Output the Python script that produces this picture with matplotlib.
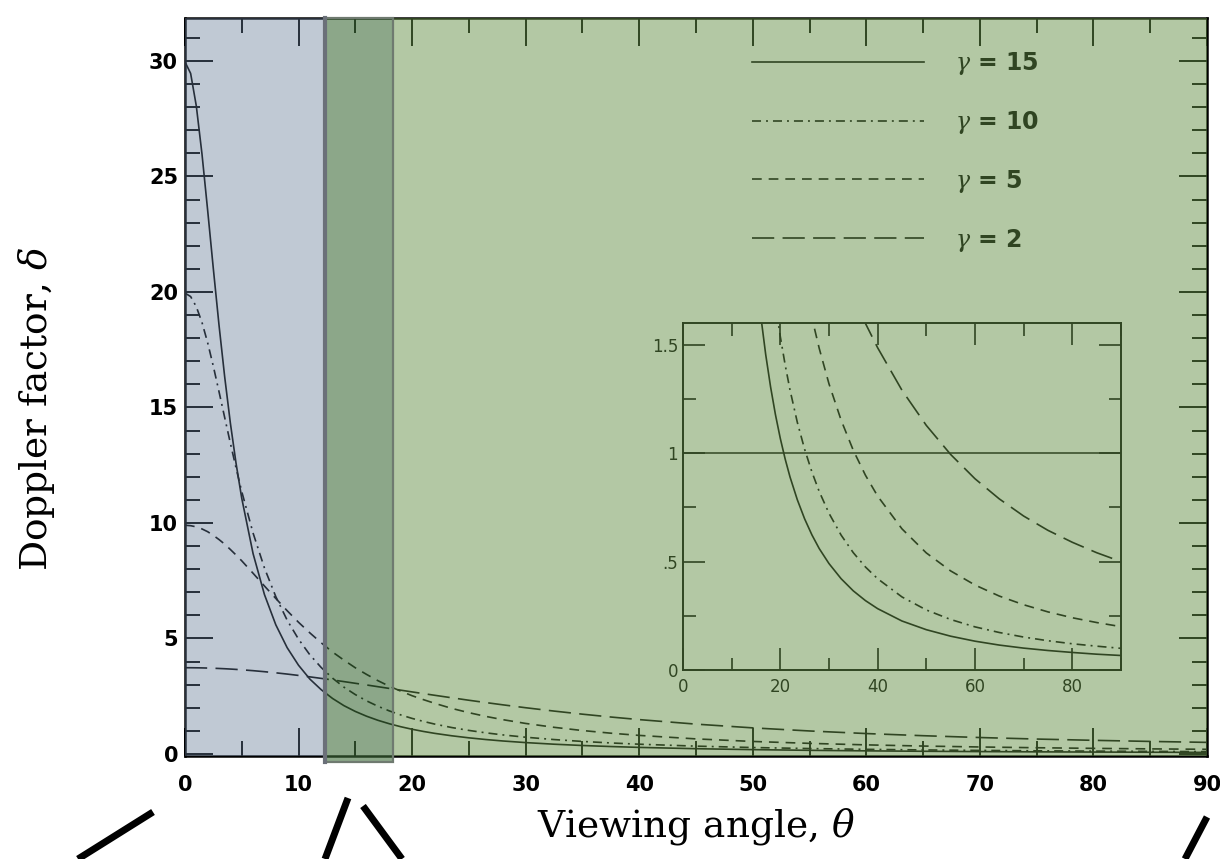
import numpy as np
import matplotlib
matplotlib.use("Agg")
import matplotlib.pyplot as plt
from matplotlib.patches import Rectangle
from matplotlib.lines import Line2D
from matplotlib.ticker import MultipleLocator

plt.rcParams['lines.scale_dashes'] = False
plt.rcParams['mathtext.fontset'] = 'dejavuserif'

# viewing angle (deg) and Doppler factor for each Lorentz factor
theta = [0, 0.5, 1, 1.5, 2, 2.5, 3, 3.5, 4, 4.5,
         5, 6, 7, 8, 9, 10, 11, 12, 13, 14,
         15, 16, 17, 18, 19, 20, 21, 22, 23.5, 25,
         26.5, 28, 30, 32.5, 35, 37.5, 40, 45, 50, 55,
         60, 65, 70, 75, 80, 85, 90]
delta_g15 = [29.96, 29.46, 28.05, 25.97, 23.53, 21.00, 18.56, 16.32, 14.32, 12.58,
             11.07, 8.67, 6.90, 5.59, 4.60, 3.84, 3.24, 2.78, 2.40, 2.09,
             1.84, 1.631, 1.455, 1.306, 1.178, 1.068, 0.973, 0.890, 0.785, 0.697,
             0.623, 0.560, 0.491, 0.421, 0.365, 0.320, 0.283, 0.226, 0.186, 0.156,
             0.133, 0.115, 0.101, 0.090, 0.081, 0.073, 0.067]
delta_g10 = [19.95, 19.80, 19.36, 18.68, 17.80, 16.78, 15.68, 14.56, 13.45, 12.38,
             11.36, 9.56, 8.05, 6.81, 5.79, 4.97, 4.29, 3.74, 3.28, 2.89,
             2.57, 2.296, 2.062, 1.862, 1.689, 1.538, 1.407, 1.291, 1.142, 1.018,
             0.913, 0.823, 0.723, 0.622, 0.541, 0.475, 0.421, 0.337, 0.277, 0.233,
             0.199, 0.173, 0.152, 0.135, 0.121, 0.110, 0.100]
delta_g5 = [9.90, 9.88, 9.83, 9.74, 9.62, 9.46, 9.28, 9.08, 8.85, 8.61,
            8.36, 7.82, 7.27, 6.73, 6.20, 5.70, 5.24, 4.81, 4.41, 4.06,
            3.73, 3.44, 3.17, 2.93, 2.72, 2.52, 2.35, 2.19, 1.97, 1.786,
            1.624, 1.483, 1.320, 1.152, 1.013, 0.898, 0.802, 0.651, 0.540, 0.457,
            0.392, 0.341, 0.301, 0.268, 0.241, 0.219, 0.200]
delta_g2 = [3.732, 3.731, 3.728, 3.724, 3.717, 3.709, 3.699, 3.688, 3.674, 3.659,
            3.642, 3.604, 3.560, 3.511, 3.457, 3.398, 3.336, 3.270, 3.202, 3.131,
            3.058, 2.985, 2.910, 2.835, 2.760, 2.685, 2.611, 2.538, 2.430, 2.324,
            2.223, 2.125, 2.000, 1.855, 1.721, 1.598, 1.486, 1.290, 1.128, 0.994,
            0.882, 0.789, 0.710, 0.644, 0.589, 0.541, 0.500]

curves = [delta_g15, delta_g10, delta_g5, delta_g2]
labels = [r'$\gamma$ = 15', r'$\gamma$ = 10', r'$\gamma$ = 5', r'$\gamma$ = 2']
styles = ['-', (0, (6.5, 3.6, 1.4, 3.6)), (0, (7, 5)), (0, (16, 6))]

# angle ranges of the shaded bands
blue_band = (0, 12.3)
dark_band = (12.3, 18.3)
green_band = (18.3, 90)

fig = plt.figure(figsize=(12.2, 8.59), dpi=100)
ax = fig.add_axes([0.1516, 0.1199, 0.8377, 0.8592])
ymin, ymax = -0.09, 31.86

lines = []
for d, lab, ls in zip(curves, labels, styles):
    ln, = ax.plot(theta, d, color='black', lw=1.2, linestyle=ls, label=lab)
    lines.append(ln)

ax.set_xlim(0, 90)
ax.set_ylim(ymin, ymax)
ax.xaxis.set_major_locator(MultipleLocator(10))
ax.xaxis.set_minor_locator(MultipleLocator(5))
ax.yaxis.set_major_locator(MultipleLocator(5))
ax.yaxis.set_minor_locator(MultipleLocator(1))
ax.tick_params(which='both', direction='in', top=True, right=True, width=1.4)
ax.tick_params(which='major', length=20)
ax.tick_params(which='minor', length=11)
ax.tick_params(axis='x', pad=14)
ax.tick_params(axis='y', pad=5)
for lab in ax.get_xticklabels() + ax.get_yticklabels():
    lab.set_fontsize(15)
    lab.set_fontweight('bold')
for sp in ax.spines.values():
    sp.set_linewidth(1.8)

ax.set_xlabel(r'Viewing angle, $\theta$', family='DejaVu Serif', fontsize=27)
ax.set_ylabel(r'Doppler factor, $\delta$', family='DejaVu Serif', fontsize=27)
ax.xaxis.set_label_coords(0.5, -0.068)
ax.yaxis.set_label_coords(-0.125, 0.47)

leg = ax.legend(handles=lines, loc='upper left', frameon=False,
                bbox_to_anchor=(752 / 1220, 1 - 50 / 859), bbox_transform=fig.transFigure,
                borderpad=0, borderaxespad=0, handlelength=7.3, handletextpad=1.3,
                labelspacing=1.35, prop={'size': 17, 'weight': 'bold'})

# inset: zoom on the low-delta part
axi = fig.add_axes([0.5598, 0.22, 0.359, 0.404])
for d, ls in zip(curves, styles):
    axi.plot(theta, d, color='black', lw=1.2, linestyle=ls)
axi.axhline(1, color='black', lw=1.1)
axi.set_xlim(0, 90)
axi.set_ylim(0, 1.6)
axi.xaxis.set_major_locator(MultipleLocator(20))
axi.xaxis.set_minor_locator(MultipleLocator(10))
axi.yaxis.set_major_locator(MultipleLocator(0.5))
axi.yaxis.set_minor_locator(MultipleLocator(0.25))
axi.set_yticks([0, 0.5, 1, 1.5])
axi.set_yticklabels(['0', '.5', '1', '1.5'])
axi.tick_params(which='both', direction='in', top=True, right=True, width=1.2, labelsize=12)
axi.tick_params(which='major', length=16)
axi.tick_params(which='minor', length=9)
axi.tick_params(axis='x', pad=6)
for sp in axi.spines.values():
    sp.set_linewidth(1.4)

# translucent colour bands laid over everything inside the frame
tr = ax.transData
fig.add_artist(Rectangle((blue_band[0], ymin), blue_band[1] - blue_band[0], ymax - ymin,
                         transform=tr, facecolor=(0.384, 0.471, 0.580, 0.40), lw=0,
                         zorder=5, clip_on=False))
fig.add_artist(Rectangle((green_band[0], ymin), green_band[1] - green_band[0], ymax - ymin,
                         transform=tr, facecolor=(0.392, 0.561, 0.278, 0.49), lw=0,
                         zorder=5, clip_on=False))
fig.add_artist(Rectangle((dark_band[0], ymin - 0.26), dark_band[1] - dark_band[0],
                         ymax - ymin + 0.26, transform=tr,
                         facecolor=(0.247, 0.424, 0.227, 0.60), edgecolor='#6f7a70',
                         lw=1.6, zorder=6, clip_on=False))
fig.add_artist(Line2D([blue_band[1], blue_band[1]], [ymin - 0.26, ymax], transform=tr,
                      color='#6b7079', lw=3, zorder=7, clip_on=False))

# connector strokes below the frame
for (x0, y0), (x1, y1) in [((153, 812), (78, 859)), ((348, 798), (325, 859)),
                           ((363, 806), (402, 859)), ((1207, 817), (1185, 859))]:
    fig.add_artist(Line2D([x0 / 1220, x1 / 1220], [1 - y0 / 859, 1 - y1 / 859],
                          transform=fig.transFigure, color='black', lw=5,
                          solid_capstyle='butt'))

fig.savefig('out.png', dpi=100)
